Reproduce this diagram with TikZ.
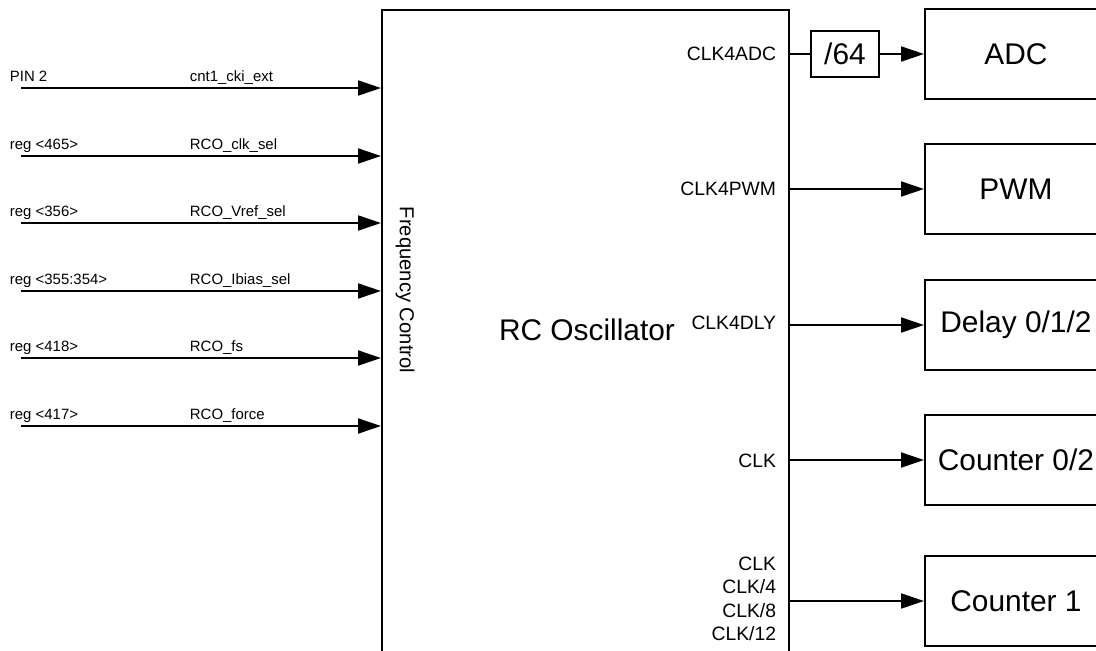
\documentclass[tikz,border=0pt]{standalone}
\usepackage{fontspec}
\setmainfont{Liberation Sans}
\usetikzlibrary{arrows.meta,positioning}
\begin{document}
\begin{tikzpicture}[x=.02cm,y=-.02cm,>={Triangle[length=13pt,width=8.5pt]},line width=1.1pt,
    blk/.style={draw,anchor=west,minimum width=3.64cm,minimum height=1.8cm,
      font=\fontsize{17}{20}\selectfont},
    sig/.style={font=\fontsize{8.5}{10}\selectfont,inner sep=0pt,anchor=base west},
    port/.style={font=\fontsize{11}{13.3}\selectfont,inner sep=0pt,anchor=east}]
  \useasboundingbox (0,0) rectangle (1096,650);
  \clip (0,0) rectangle (1096,650);
  % Oscillator block: runs off the bottom of the sheet.
  \node[draw,anchor=north west,minimum width=8.14cm,minimum height=14cm] (osc) at (381,9) {};
  \node[font=\fontsize{17}{20}\selectfont] (rco) at (587,330) {RC Oscillator};
  \node[rotate=-90,font=\fontsize{11.5}{13}\selectfont] (fc) at (405,290) {Frequency Control};
  % Control inputs on the left.
  \foreach \y/\src/\sname [count=\i] in {88/PIN 2/cnt1\_cki\_ext,
      156/reg <465>/RCO\_clk\_sel, 223/reg <356>/RCO\_Vref\_sel,
      291/reg <355:354>/RCO\_Ibias\_sel, 358/reg <418>/RCO\_fs,
      426/reg <417>/RCO\_force} {
    \coordinate (in\i) at (21,\y);
    \node[sig] (src\i) at (9,\y-7) {\src};
    \node[sig] (sig\i) at (189,\y-7) {\sname};
    \draw[->] (in\i) -- (in\i -| osc.west);
  }
  % Clock consumers on the right, cut by the sheet edge.
  \node[blk] (adc) at (924,54) {ADC};
  \node[blk] (pwm) at (924,189) {PWM};
  \node[blk] (dly) at (924,325) {Delay 0/1/2};
  \node[blk] (cnt02) at (924,460) {Counter 0/2};
  \node[blk] (cnt1) at (924,601) {Counter 1};
  \node[draw,minimum width=1.36cm,minimum height=.92cm,font=\fontsize{17}{20}\selectfont]
    (div) at (845,54) {/64};
  % Clock outputs.
  \node[port] (padc) at (777,54) {CLK4ADC};
  \node[port] (ppwm) at (777,189) {CLK4PWM};
  \node[port] (pdly) at (777,323) {CLK4DLY};
  \node[port] (pclk) at (777,461) {CLK};
  \node[port,align=right] (pcnt) at (777,599) {CLK\\CLK/4\\CLK/8\\CLK/12};
  \draw (osc.east |- adc) -- (div);
  \draw[->] (div) -- (adc);
  \draw[->] (osc.east |- pwm) -- (pwm);
  \draw[->] (osc.east |- dly) -- (dly);
  \draw[->] (osc.east |- cnt02) -- (cnt02);
  \draw[->] (osc.east |- cnt1) -- (cnt1);
\end{tikzpicture}
\end{document}
